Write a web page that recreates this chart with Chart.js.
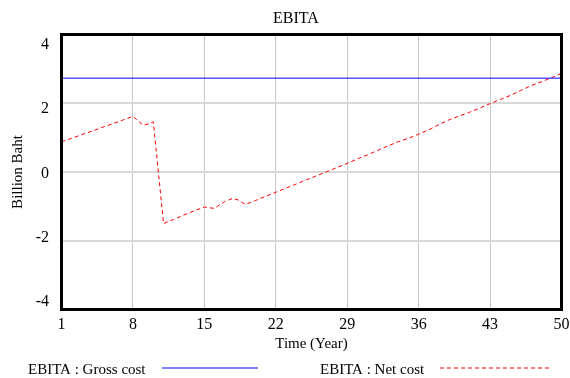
<!DOCTYPE html>
<html>
<head>
<meta charset="utf-8">
<script src="https://cdn.jsdelivr.net/npm/chart.js@4.4.0/dist/chart.umd.min.js"></script>
<style>
  html, body { margin: 0; padding: 0; background: #ffffff; }
  #wrap { width: 570px; height: 378px; }
</style>
</head>
<body>
<div id="wrap"><canvas id="c" width="570" height="378"></canvas></div>
<script>
// Simulation time (years) and EBITA results, billion baht
const years = [1, 2, 3, 4, 5, 6, 7, 8, 9, 9.5, 10, 11, 12, 13, 14, 15, 15.5, 16, 16.5, 17, 17.75, 18.3, 19, 19.5, 20,
  21, 22, 23, 24, 25, 26, 27, 28, 29, 30, 31, 32, 33, 34, 35, 36, 37, 38, 39, 40, 41, 42, 43, 44, 45, 46, 47, 48, 49, 50];
const netCost = [0.88, 0.98, 1.09, 1.19, 1.30, 1.40, 1.51, 1.62, 1.36, 1.40, 1.46, -1.50, -1.38, -1.25, -1.13, -1.02, -1.04, -1.06, -0.95, -0.86, -0.77, -0.81, -0.94, -0.89, -0.83,
  -0.71, -0.59, -0.47, -0.35, -0.23, -0.11, 0.01, 0.13, 0.25, 0.38, 0.50, 0.63, 0.76, 0.88, 0.98, 1.10, 1.23, 1.38, 1.52, 1.63, 1.74, 1.86, 1.99, 2.11, 2.23, 2.37, 2.51, 2.62, 2.74, 2.87];
const grossYears = [1, 50];
const grossCost = [2.73, 2.73];

const xTickValues = [1, 8, 15, 22, 29, 36, 43, 50];
const yTickValues = [-4, -2, 0, 2, 4];

const chartTitle = 'EBITA';
const seriesLabels = ['EBITA : Gross cost', 'EBITA : Net cost'];
const seriesColors = ['#0000ff', '#ff0000'];
const seriesDash = [[], [4, 3]];
const FONT = '"Liberation Serif", "Times New Roman", serif';

const toPoints = (xs, ys) => xs.map((x, i) => ({ x: x, y: ys[i] }));

// Black frame around the plotting area
const framePlugin = {
  id: 'frame',
  afterDatasetsDraw(chart) {
    const { ctx, chartArea: a } = chart;
    ctx.save();
    ctx.strokeStyle = '#000000';
    ctx.lineWidth = 3;
    ctx.strokeRect(a.left, a.top, a.right - a.left, a.bottom - a.top);
    ctx.restore();
  }
};

// Title, value labels on the vertical axis (pulled slightly toward the middle), and the legend row
const decorPlugin = {
  id: 'decor',
  afterDraw(chart) {
    const ctx = chart.ctx;
    const a = chart.chartArea;
    const yScale = chart.scales.y;
    ctx.save();
    ctx.fillStyle = '#000000';

    // chart title
    ctx.font = '16px ' + FONT;
    ctx.textAlign = 'center';
    ctx.textBaseline = 'alphabetic';
    ctx.fillText(chartTitle, 296, 22.7);

    // y tick labels
    ctx.textAlign = 'right';
    ctx.textBaseline = 'middle';
    const mid = (a.top + a.bottom) / 2;
    yTickValues.forEach(v => {
      const p = yScale.getPixelForValue(v);
      const ly = mid + (p - mid) * 0.9335 + 1.4;
      ctx.fillText(String(v), 49, ly);
    });

    // legend: label text followed by a line sample
    const slots = [
      { textX: 28, lineFrom: 162, lineTo: 258 },
      { textX: 320, lineFrom: 440, lineTo: 552 }
    ];
    ctx.font = '15px ' + FONT;
    ctx.textAlign = 'left';
    ctx.textBaseline = 'alphabetic';
    seriesLabels.forEach((label, i) => {
      const s = slots[i];
      ctx.fillStyle = '#000000';
      ctx.setLineDash([]);
      ctx.fillText(label, s.textX, 373.5);
      ctx.strokeStyle = seriesColors[i];
      ctx.lineWidth = 1;
      ctx.setLineDash(seriesDash[i]);
      ctx.beginPath();
      ctx.moveTo(s.lineFrom, 368);
      ctx.lineTo(s.lineTo, 368);
      ctx.stroke();
    });
    ctx.restore();
  }
};

new Chart(document.getElementById('c'), {
  type: 'line',
  data: {
    datasets: [
      {
        label: seriesLabels[0],
        data: toPoints(grossYears, grossCost),
        borderColor: seriesColors[0],
        borderWidth: 1,
        borderDash: seriesDash[0],
        pointRadius: 0,
        fill: false,
        tension: 0
      },
      {
        label: seriesLabels[1],
        data: toPoints(years, netCost),
        borderColor: seriesColors[1],
        borderWidth: 1,
        borderDash: seriesDash[1],
        pointRadius: 0,
        fill: false,
        tension: 0
      }
    ]
  },
  options: {
    responsive: false,
    animation: false,
    devicePixelRatio: 1,
    layout: { padding: { left: 0, right: 8.5, top: 34.5, bottom: 24.5 } },
    plugins: {
      legend: { display: false },
      tooltip: { enabled: false },
      title: { display: false }
    },
    scales: {
      x: {
        type: 'linear',
        min: 1,
        max: 50,
        afterBuildTicks: (s) => { s.ticks = xTickValues.map(v => ({ value: v })); },
        afterFit: (s) => { s.height = 44; s.paddingLeft = 0; s.paddingRight = 0; },
        grid: { color: '#c8c8c8', lineWidth: 1, drawTicks: false },
        border: { display: false },
        ticks: {
          color: '#000000',
          font: { family: FONT, size: 16 },
          padding: 6,
          maxRotation: 0,
          autoSkip: false
        },
        title: {
          display: true,
          text: 'Time (Year)',
          color: '#000000',
          font: { family: FONT, size: 15 },
          padding: { top: 0, bottom: 0 }
        }
      },
      y: {
        type: 'linear',
        min: -4,
        max: 4,
        afterBuildTicks: (s) => { s.ticks = yTickValues.map(v => ({ value: v })); },
        afterFit: (s) => { s.width = 61.5; s.paddingTop = 0; s.paddingBottom = 0; },
        grid: { color: '#d8d8d8', lineWidth: 2, drawTicks: false },
        border: { display: false },
        ticks: { display: false },
        title: {
          display: true,
          text: 'Billion Baht',
          color: '#000000',
          font: { family: FONT, size: 15 },
          padding: { top: 9, bottom: 0 }
        }
      }
    }
  },
  plugins: [framePlugin, decorPlugin]
});
</script>
</body>
</html>
